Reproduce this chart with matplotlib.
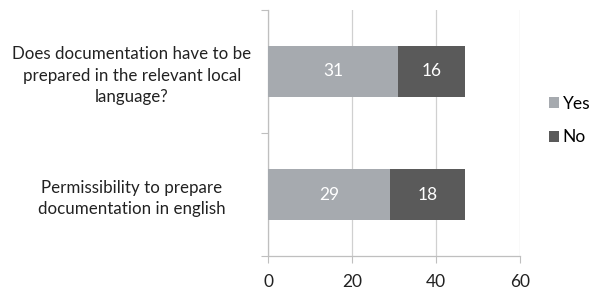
import matplotlib
matplotlib.use("Agg")
import matplotlib.pyplot as plt
import numpy as np

categories = ["Permissibility to prepare\ndocumentation in english",
              "Does documentation have to be\nprepared in the relevant local\nlanguage?"]
yes_vals = [29, 31]
no_vals = [18, 16]
xticks = [0, 20, 40, 60]

plt.rcParams['font.family'] = ['Lato', 'DejaVu Sans']

fig = plt.figure(figsize=(5.89, 2.89), dpi=100)
ax = fig.add_axes([268/589, 1-256/289, (520-268)/589, (256-10)/289])

y = np.arange(len(categories))
h = 0.41
c_yes = "#A6AAAF"
c_no = "#5A5A5A"
b1 = ax.barh(y, yes_vals, height=h, color=c_yes, label="Yes", zorder=3)
b2 = ax.barh(y, no_vals, left=yes_vals, height=h, color=c_no, label="No", zorder=3)

for bars, vals, lefts in [(b1, yes_vals, [0]*len(yes_vals)), (b2, no_vals, yes_vals)]:
    for yi, v, l in zip(y, vals, lefts):
        ax.text(l + v/2, yi, str(v), ha="center", va="center", color="white", fontsize=12.5)

ax.set_xlim(0, 60)
ax.set_ylim(-0.5, 1.5)
ax.set_xticks(xticks)
ax.set_xticklabels([str(t) for t in xticks], fontsize=12.5, color="#222222")
ax.set_yticks([-0.5, 0.5, 1.5])
ax.set_yticklabels([])
ax.set_yticks(y, minor=True)
ax.set_yticklabels(categories, minor=True, fontsize=12.2, ha="center", color="#222222",
                   linespacing=1.4)
ax.tick_params(axis="y", which="minor", length=0, pad=98)
ax.tick_params(axis="y", which="major", length=5, color="#BFBFBF", direction="out")
ax.tick_params(axis="x", length=5, color="#BFBFBF", direction="out", pad=8)
ax.grid(axis="x", color="#D0D0D0", linewidth=0.9, zorder=0)
for s in ["top", "right"]:
    ax.spines[s].set_visible(False)
for s in ["left", "bottom"]:
    ax.spines[s].set_color("#BFBFBF")
    ax.spines[s].set_linewidth(0.9)

leg = ax.legend(handles=[b1, b2], loc="center left", bbox_to_anchor=(1.114, 0.55),
                frameon=False, fontsize=12.5, handlelength=0.6, handleheight=0.6,
                handletextpad=0.2, labelspacing=1.0, borderpad=0, borderaxespad=0)

fig.savefig("out.png", dpi=100)
